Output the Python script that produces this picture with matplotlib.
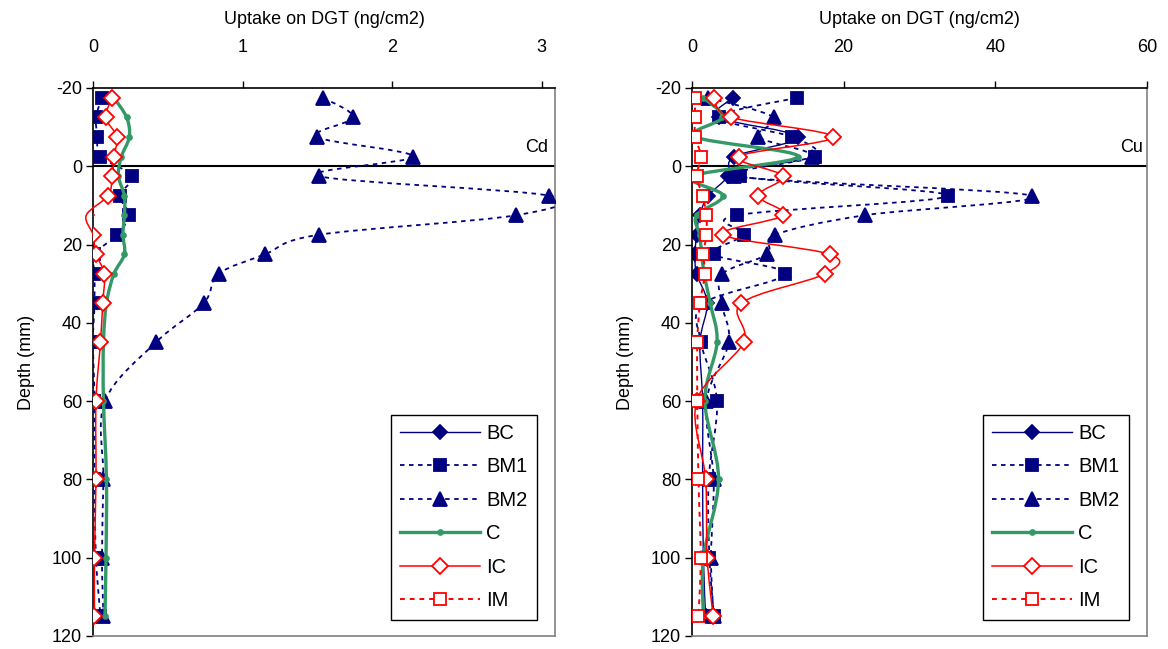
import numpy as np
import matplotlib
matplotlib.use("Agg")
import matplotlib.pyplot as plt
from matplotlib.path import Path
from matplotlib.patches import PathPatch
from matplotlib.lines import Line2D

plt.rcParams['font.family'] = ['Liberation Sans', 'DejaVu Sans']
plt.rcParams['axes.unicode_minus'] = False

# ---------------- data ----------------
depth = [-17.5, -12.5, -7.5, -2.5, 2.5, 7.5, 12.5, 17.5, 22.5, 27.5, 35, 45, 60, 80, 100, 115]

# Cd uptake (ng/cm2)
cd_bc = None  # no visible BC series in Cd panel
cd_bm1 = [0.06, 0.02, 0.03, 0.05, 0.26, 0.18, 0.24, 0.16, 0.01, 0.01, 0.01, 0.0, 0.01, 0.01, 0.02, 0.05]
cd_bm2 = [1.54, 1.74, 1.50, 2.14, 1.51, 3.05, 2.83, 1.51, 1.15, 0.84, 0.74, 0.42, 0.08, 0.07, 0.06, 0.07]
cd_c = [0.14, 0.225, 0.243, 0.19, 0.17, 0.21, 0.21, 0.20, 0.21, 0.14, 0.09, 0.07, 0.07, 0.09, 0.087, 0.08]
cd_ic = [0.13, 0.085, 0.16, 0.14, 0.13, 0.10, -0.045, 0.0, 0.02, 0.076, 0.065, 0.05, 0.02, 0.02, 0.01, 0.01]
cd_im = None  # hidden / not visible

# Cu uptake (ng/cm2)
cu_bc = [5.45, 3.5, 14.0, 5.6, 4.8, 2.15, 1.0, 0.6, 0.4, 0.6, 2.0, 1.05, 1.4, 1.4, 1.5, 1.8]
cu_bm1 = [13.8, 3.5, 13.2, 16.2, 6.3, 33.8, 5.9, 6.8, 2.9, 12.3, 1.5, 1.2, 3.3, 2.2, 2.3, 2.9]
cu_bm2 = [2.15, 10.8, 8.75, 15.8, 5.5, 44.8, 22.8, 11.0, 9.9, 4.0, 3.9, 4.85, 1.9, 2.85, 2.5, 2.85]
cu_c = [1.5, 4.0, 0.5, 14.0, 0.2, 4.1, 0.6, 1.0, 1.3, 1.6, 2.4, 3.3, 1.7, 3.5, 1.5, 1.5]
cu_ic = [2.9, 5.2, 18.6, 6.2, 12.0, 8.7, 12.0, 4.1, 18.2, 17.5, 6.5, 6.8, 0.6, 1.8, 2.0, 2.8]
cu_im = [0.4, 0.4, 0.4, 1.2, 0.6, 1.4, 1.9, 1.9, 1.5, 1.7, 1.05, 0.7, 0.7, 0.85, 1.15, 0.85]

series_names = ["BC", "BM1", "BM2", "C", "IC", "IM"]
x_label = "Uptake on DGT (ng/cm2)"
y_label = "Depth (mm)"
y_ticks = [-20, 0, 20, 40, 60, 80, 100, 120]

NAVY = "#000080"
GREEN = "#339966"
RED = "#FF0000"

styles = {
    "BC":  dict(color=NAVY, lw=1.0, ls="-", marker="D", ms=7.5, mfc=NAVY, mec=NAVY),
    "BM1": dict(color=NAVY, lw=1.3, ls=(0, (2.5, 2.5)), marker="s", ms=8, mfc=NAVY, mec=NAVY),
    "BM2": dict(color=NAVY, lw=1.3, ls=(0, (2.5, 2.5)), marker="^", ms=9.5, mfc=NAVY, mec=NAVY),
    "C":   dict(color=GREEN, lw=2.4, ls="-", marker="o", ms=3.5, mfc=GREEN, mec=GREEN),
    "IC":  dict(color=RED, lw=1.1, ls="-", marker="D", ms=8, mfc="white", mec=RED),
    "IM":  dict(color=RED, lw=1.4, ls=(0, (2.5, 2.5)), marker="s", ms=9, mfc="white", mec=RED),
}


def smooth_path(x, y):
    pts = np.column_stack([np.asarray(x, float), np.asarray(y, float)])
    n = len(pts)
    verts = [pts[0]]
    codes = [Path.MOVETO]
    for i in range(n - 1):
        p0 = pts[i - 1] if i > 0 else pts[i]
        p1 = pts[i]
        p2 = pts[i + 1]
        p3 = pts[i + 2] if i + 2 < n else pts[i + 1]
        c1 = p1 + (p2 - p0) / 6.0
        c2 = p2 - (p3 - p1) / 6.0
        verts += [c1, c2, p2]
        codes += [Path.CURVE4] * 3
    return Path(verts, codes)


def draw_panel(ax, data, xmax, xticks, tag, tag_x):
    ax.axhline(0, color="black", lw=1.5, zorder=1)
    for k, name in enumerate(series_names):
        vals = data[name]
        if vals is None:
            continue
        st = styles[name]
        p = PathPatch(smooth_path(vals, depth), fill=False, edgecolor=st["color"],
                      lw=st["lw"], linestyle=st["ls"], zorder=2 + k,
                      clip_on=(min(vals) >= 0))
        ax.add_patch(p)
        ax.plot(vals, depth, linestyle="none", marker=st["marker"], ms=st["ms"],
                mfc=st["mfc"], mec=st["mec"], mew=1.3, zorder=2.5 + k)
    ax.set_xlim(0, xmax)
    ax.set_ylim(120, -20)
    ax.set_xticks(xticks)
    ax.set_yticks(y_ticks)
    ax.xaxis.tick_top()
    ax.xaxis.set_label_position("top")
    ax.tick_params(axis="x", direction="out", length=5, width=1, pad=18, labelsize=13)
    ax.tick_params(axis="y", direction="out", length=5, width=1, pad=3, labelsize=13)
    ax.set_xlabel(x_label, fontsize=13, labelpad=11)
    ax.set_ylabel(y_label, fontsize=13, labelpad=12)
    for s in ["left", "top"]:
        ax.spines[s].set_color("black")
        ax.spines[s].set_linewidth(1.2)
    for s in ["right", "bottom"]:
        ax.spines[s].set_color("#808080")
        ax.spines[s].set_linewidth(1.2)
    ax.text(tag_x, 0.892, tag, transform=ax.transAxes, fontsize=13, ha="center", va="center")

    handles = []
    for name in series_names:
        st = styles[name]
        handles.append(Line2D([], [], color=st["color"], lw=st["lw"], linestyle=st["ls"],
                              marker=st["marker"], ms=st["ms"], mfc=st["mfc"], mec=st["mec"], mew=1.3))
    leg = ax.legend(handles, series_names, loc="lower right", bbox_to_anchor=(0.96, 0.03),
                    fontsize=14.5, handlelength=4.0, labelspacing=0.72, handletextpad=0.3,
                    borderpad=0.45, fancybox=False, framealpha=1, edgecolor="black",
                    borderaxespad=0)
    leg.get_frame().set_linewidth(1.0)


fig = plt.figure(figsize=(11.68, 6.49), dpi=100)
ax1 = fig.add_axes([93 / 1168, 1 - 636 / 649, 462 / 1168, 548 / 649])
ax2 = fig.add_axes([692 / 1168, 1 - 636 / 649, 455 / 1168, 548 / 649])

draw_panel(ax1, {"BC": cd_bc, "BM1": cd_bm1, "BM2": cd_bm2, "C": cd_c, "IC": cd_ic, "IM": cd_im},
           3.09, [0, 1, 2, 3], "Cd", 0.961)
draw_panel(ax2, {"BC": cu_bc, "BM1": cu_bm1, "BM2": cu_bm2, "C": cu_c, "IC": cu_ic, "IM": cu_im},
           60, [0, 20, 40, 60], "Cu", 0.965)

fig.savefig("out.png", dpi=100)
